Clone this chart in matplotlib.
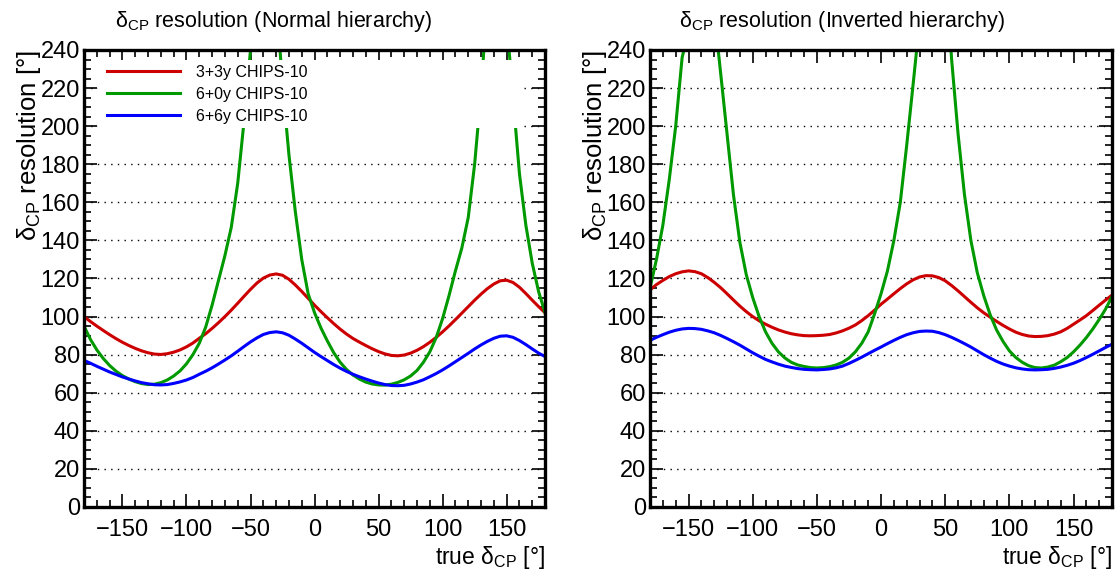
import numpy as np
import matplotlib
matplotlib.use("Agg")
import matplotlib.pyplot as plt
from matplotlib.patches import Rectangle

plt.rcParams['font.family'] = ['Liberation Sans', 'DejaVu Sans']
plt.rcParams['mathtext.fontset'] = 'custom'
plt.rcParams['mathtext.rm'] = 'Liberation Sans'
plt.rcParams['mathtext.it'] = 'Liberation Sans:italic'
plt.rcParams['mathtext.bf'] = 'Liberation Sans:bold'

# true delta_CP (deg), 5 degree steps from -180 to 180
delta = np.arange(-180, 181, 5)

# normal hierarchy, resolution in degrees
nh_3p3 = [100, 97.4, 95, 92.7, 90.5, 88.4, 86.5, 84.8, 83.3, 82, 81, 80.3, 80.1,
          80.5, 81.3, 82.5, 84.1, 86.1, 88.6, 91, 93.8, 96.8, 100, 103.4, 107, 110.7,
          114.3, 117.6, 120.2, 121.8, 122.4, 121.7, 119.6, 116.6, 113.2, 109.6, 106,
          102.6, 99.4, 96.3, 93.4, 90.8, 88.5, 86.6, 84.8, 83.1, 81.6, 80.4, 79.6,
          79.4, 79.8, 80.8, 82.3, 84.2, 86.5, 89.1, 92, 95.1, 98.4, 101.8, 105.2, 108.6,
          111.8, 114.7, 117.1, 118.8, 119.1, 117.9, 115.4, 112.1, 108.6, 105.2, 102]
nh_6p0 = [95, 88, 82.5, 78, 74.3, 71.3, 69, 67.2, 65.8, 64.8, 64.3, 64.5, 65.3,
          66.7, 68.8, 71.5, 75.2, 80, 86, 94.5, 106, 119, 132, 147, 170, 203,
          240, 290, 350, 330, 268, 222, 185, 155, 130, 112, 102,
          94, 87.2, 81, 76, 72.2, 69.3, 67.2, 65.6, 64.6, 64.1, 64, 64.5,
          65.4, 66.8, 68.8, 71.7, 76, 81.5, 89, 99, 111, 124, 136, 152, 180,
          218, 268, 320, 330, 255, 215, 175, 148, 128, 113, 102]
nh_6p6 = [77, 75.5, 73.9, 72.4, 70.9, 69.6, 68.3, 67.2, 66.2, 65.3, 64.7, 64.2, 64.1,
          64.3, 64.9, 65.7, 66.7, 68, 69.7, 71.3, 73.1, 75.1, 77.2, 79.4, 81.8, 84.3,
          86.7, 88.8, 90.6, 91.6, 92, 91.5, 90.2, 88.2, 86, 83.6, 81.2,
          79, 76.9, 74.8, 72.9, 71.2, 69.7, 68.4, 67.2, 66.1, 65.1, 64.3, 63.8,
          63.7, 63.9, 64.6, 65.6, 66.8, 68.4, 70.1, 72, 74.1, 76.3, 78.5, 80.7, 83,
          85.1, 87, 88.6, 89.7, 89.9, 89.1, 87.4, 85.3, 83, 80.8, 79]

# inverted hierarchy, resolution in degrees
ih_3p3 = [114, 116.8, 119, 121, 122.5, 123.5, 124, 123.6, 122.5, 120.5, 118, 115.2, 112,
          108.7, 105.5, 102.6, 100, 97.8, 96, 94.4, 93, 91.9, 91, 90.4, 90, 89.9,
          90, 90.2, 90.6, 91.4, 92.5, 93.9, 95.6, 97.9, 100.5, 103.4, 106.5,
          109.2, 112, 114.7, 117.2, 119.3, 120.8, 121.5, 121.4, 120.5, 118.8, 116.3, 113.5,
          110.5, 107.5, 104.6, 102, 99.7, 97.5, 95.4, 93.5, 91.8, 90.6, 89.8, 89.5, 89.6,
          90, 90.8, 92, 93.8, 96, 98.2, 100.5, 103.2, 106, 108.7, 111.3]
ih_6p0 = [115, 130, 148, 172, 200, 236, 250, 320, 340, 320, 260, 228, 196,
          164, 139, 122, 110, 100, 92, 86, 81.5, 78.3, 76, 74.6, 73.8, 73.2,
          73, 73.2, 73.7, 74.6, 76, 78.2, 81.5, 86, 92, 101.5, 112,
          124, 140, 160, 190, 222, 255, 300, 330, 320, 285, 235, 196,
          164, 140, 123, 111, 101, 93, 87, 82, 78.5, 76, 74.2, 73.2, 73,
          73.5, 74.5, 76.3, 78.5, 81.5, 85, 89, 93.5, 98.5, 104, 110.5]
ih_6p6 = [87.5, 89.1, 90.5, 91.8, 92.8, 93.5, 93.8, 93.7, 93.3, 92.5, 91.5, 90.1, 88.5,
          86.8, 85, 83, 81, 79.2, 77.5, 76.2, 75, 74, 73.3, 72.7, 72.3, 72.1,
          72, 72.2, 72.5, 73.1, 74, 75.4, 77, 78.7, 80.5, 82.3, 84,
          85.8, 87.5, 89.1, 90.5, 91.5, 92.2, 92.4, 92.3, 91.6, 90.5, 89.1, 87.5,
          85.8, 84, 82, 80, 78.2, 76.5, 75.1, 74, 73.1, 72.5, 72.1, 72, 72.1,
          72.3, 72.8, 73.5, 74.4, 75.5, 76.9, 78.5, 80.2, 82, 83.8, 85.5]

labels = ['3+3y CHIPS-10', '6+0y CHIPS-10', '6+6y CHIPS-10']
colors = ['#cc0000', '#009900', '#0000ff']
y_ticks = list(range(0, 241, 20))

fig = plt.figure(figsize=(11.19, 5.76), dpi=100)
ax_nh = fig.add_axes([0.0751, 0.1198, 0.412, 0.7934])
ax_ih = fig.add_axes([0.5809, 0.1198, 0.4129, 0.7934])

panels = [
    (ax_nh, [nh_3p3, nh_6p0, nh_6p6], 'Normal hierarchy', 0.245),
    (ax_ih, [ih_3p3, ih_6p0, ih_6p6], 'Inverted hierarchy', 0.752),
]

for ax, series, name, tx in panels:
    for vals, lab, col in zip(series, labels, colors):
        ax.plot(delta, vals, color=col, lw=2.2, label=lab, zorder=2,
                solid_joinstyle='round')

    # dotted horizontal grid
    ax.hlines(y_ticks[1:-1], 0, 1, transform=ax.get_yaxis_transform(),
              colors='black', lw=1.0, linestyles=(0, (1, 3.8)), zorder=1)

    ax.set_xlim(-180, 180)
    ax.set_ylim(0, 240)
    ax.set_xticks([-150, -100, -50, 0, 50, 100, 150])
    ax.set_xticks(np.arange(-180, 181, 10), minor=True)
    ax.set_yticks(y_ticks)
    ax.set_yticks(np.arange(0, 241, 5), minor=True)
    ax.tick_params(which='both', direction='in', top=True, right=True,
                   width=1.2, labelsize=17)
    ax.tick_params(which='major', length=9.6)
    ax.tick_params(which='minor', length=4.8)
    ax.tick_params(axis='x', which='major', pad=9)
    ax.tick_params(axis='y', which='major', pad=3)
    for sp in ax.spines.values():
        sp.set_linewidth(2.4)

    ax.set_xlabel(r'true $\mathrm{\delta_{CP}}$ [°]', fontsize=16.5, loc='right')
    ax.xaxis.set_label_coords(1.0, -0.08)
    ax.set_ylabel(r'$\mathrm{\delta_{CP}}$ resolution [°]', fontsize=18.5, loc='top')
    ax.yaxis.set_label_coords(-0.088, 1.0)

    fig.text(tx, 0.962, r'$\mathrm{\delta_{CP}}$ resolution (' + name + ')',
             fontsize=15.5, ha='center', va='center')

# white legend box over the normal hierarchy panel
ax_nh.add_patch(Rectangle((0.03, 0.829), 0.925, 0.149, transform=ax_nh.transAxes,
                          facecolor='white', edgecolor='none', zorder=2.2))
ax_nh.legend(loc='upper left', bbox_to_anchor=(0.035, 0.981), frameon=False,
             fontsize=11.5, handlelength=4.6, handletextpad=1.0, labelspacing=0.43,
             borderaxespad=0.0)

fig.savefig('out.png', dpi=100)
